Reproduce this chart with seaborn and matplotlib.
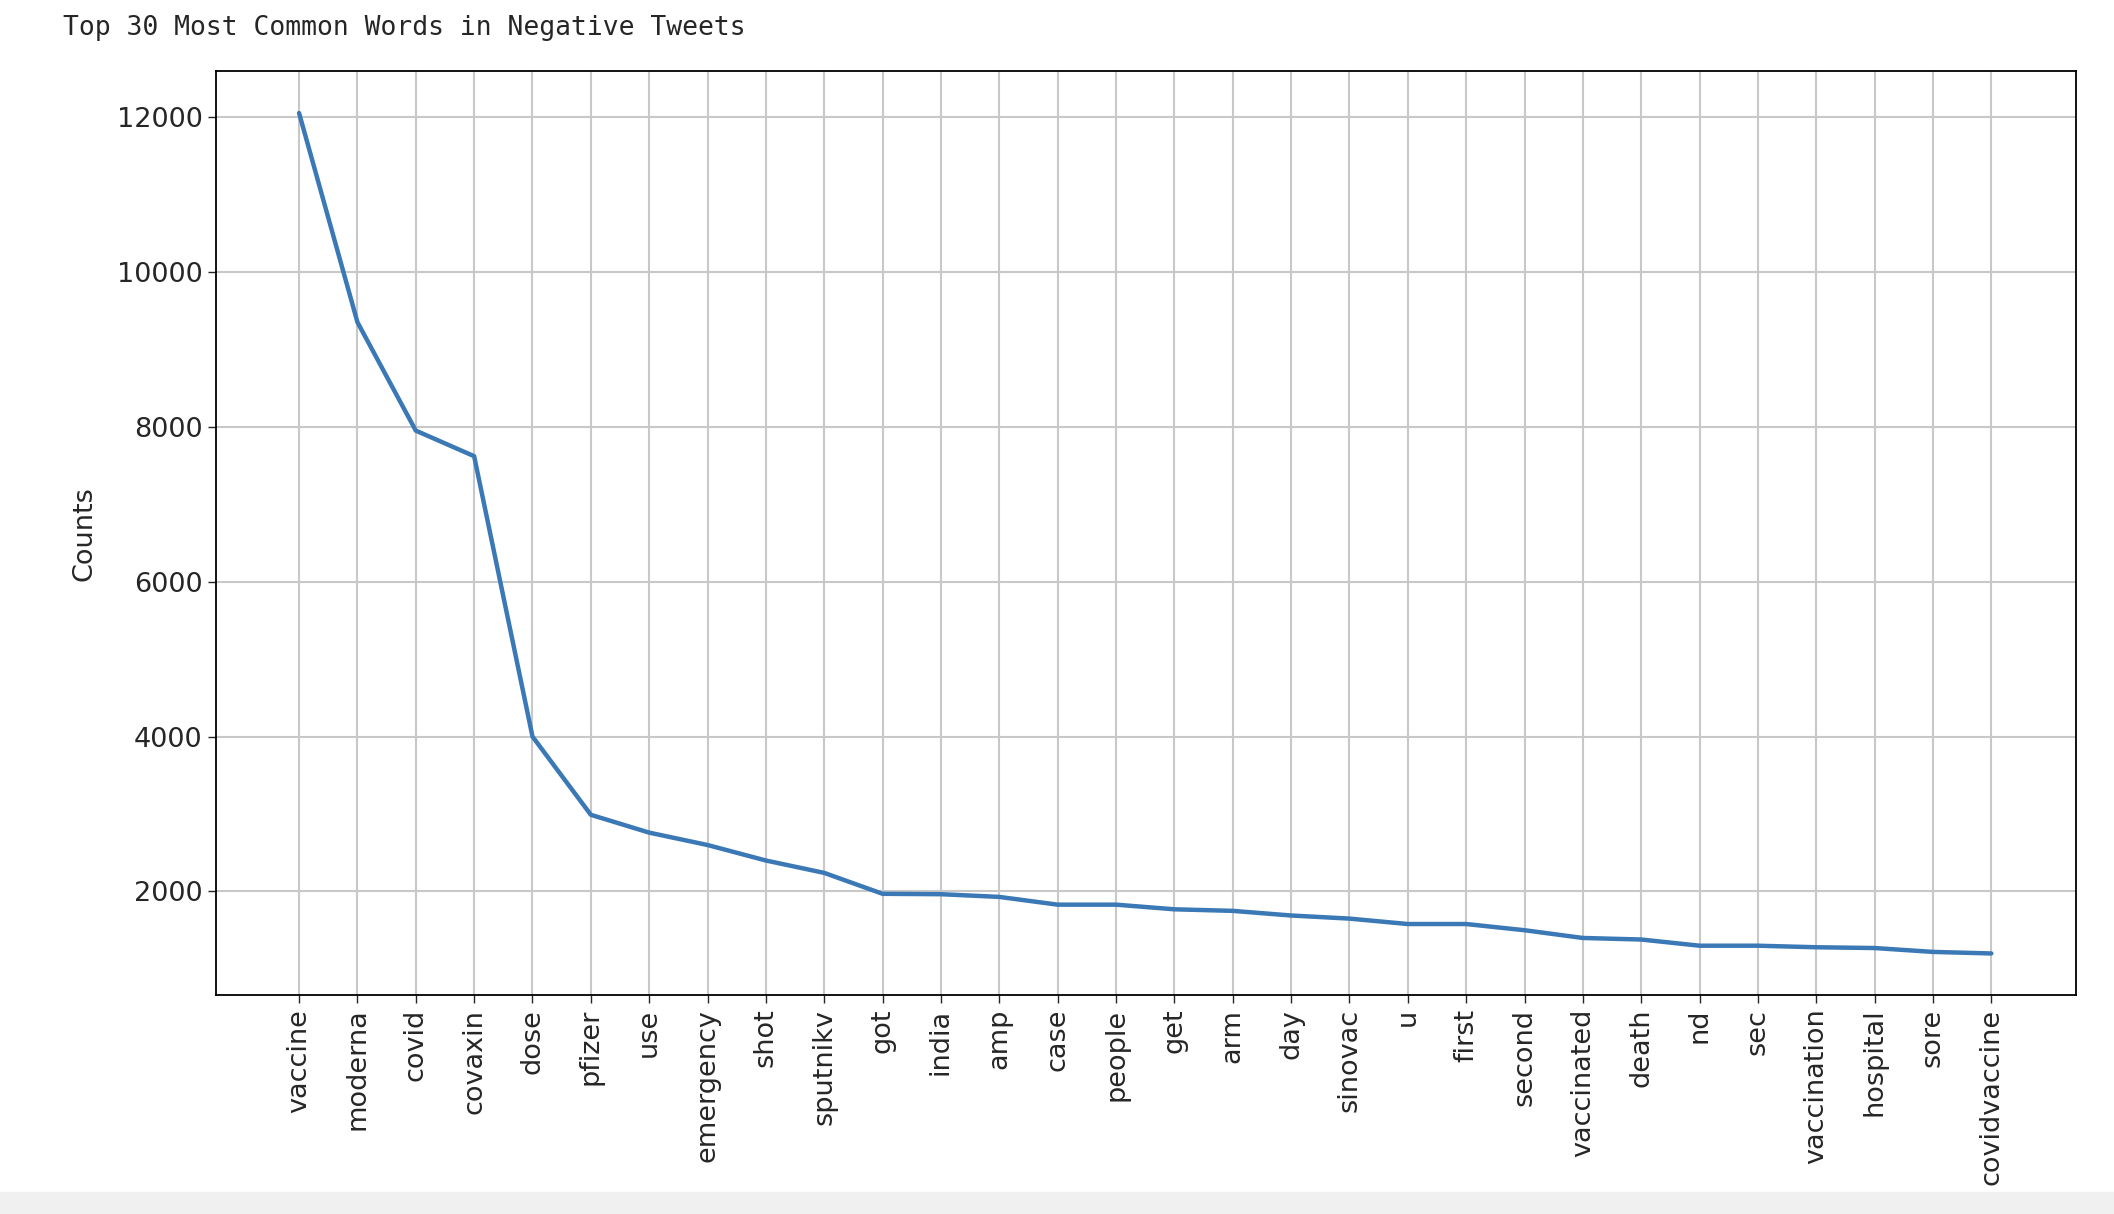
import matplotlib
matplotlib.use("Agg")
import matplotlib.pyplot as plt
import seaborn as sns
import pandas as pd

words = ["vaccine", "moderna", "covid", "covaxin", "dose", "pfizer", "use", "emergency",
         "shot", "sputnikv", "got", "india", "amp", "case", "people", "get", "arm", "day",
         "sinovac", "u", "first", "second", "vaccinated", "death", "nd", "sec",
         "vaccination", "hospital", "sore", "covidvaccine"]
counts = [12050, 9350, 7950, 7620, 4000, 2990, 2760, 2600, 2400, 2240, 1970, 1965, 1930,
          1830, 1830, 1770, 1750, 1690, 1650, 1580, 1580, 1500, 1400, 1380, 1300, 1300,
          1280, 1270, 1220, 1200]

df = pd.DataFrame({"pos": range(len(words)), "count": counts})

sns.set_style("white")
plt.rcParams['font.family'] = ['DejaVu Sans']
fig = plt.figure(figsize=(21.14, 12.14), dpi=100)
ax = fig.add_axes([0.102, 0.180, 0.880, 0.7615])
sns.lineplot(data=df, x="pos", y="count", ax=ax, color="#3a78b6", linewidth=3.2)
ax.grid(True, color="#c8c8c8", linewidth=1.5)
ax.set_xticks(range(len(words)))
ax.set_xticklabels(words, rotation=90, fontsize=19.5)
ax.tick_params(axis="y", labelsize=19.5)
ax.tick_params(axis="both", length=6, width=1, left=True, bottom=True)
ax.set_xlim(-1.43, len(words) - 1 + 1.45)
ax.set_ylabel("Counts", fontsize=19.5, labelpad=14)
ax.set_xlabel("")
for s in ax.spines.values():
    s.set_color("black")
    s.set_linewidth(1.3)

fig.text(0.0298, 0.988, "Top 30 Most Common Words in Negative Tweets",
         family="DejaVu Sans Mono", fontsize=19, va="top", ha="left")
fig.text(0.54, -0.012, "Samples", fontsize=19.5, ha="center", va="bottom")
fig.patches.append(plt.Rectangle((0, 0), 1, 0.018, transform=fig.transFigure,
                                 color="#f0f0f0", zorder=5))
fig.savefig("out.png", dpi=100)
